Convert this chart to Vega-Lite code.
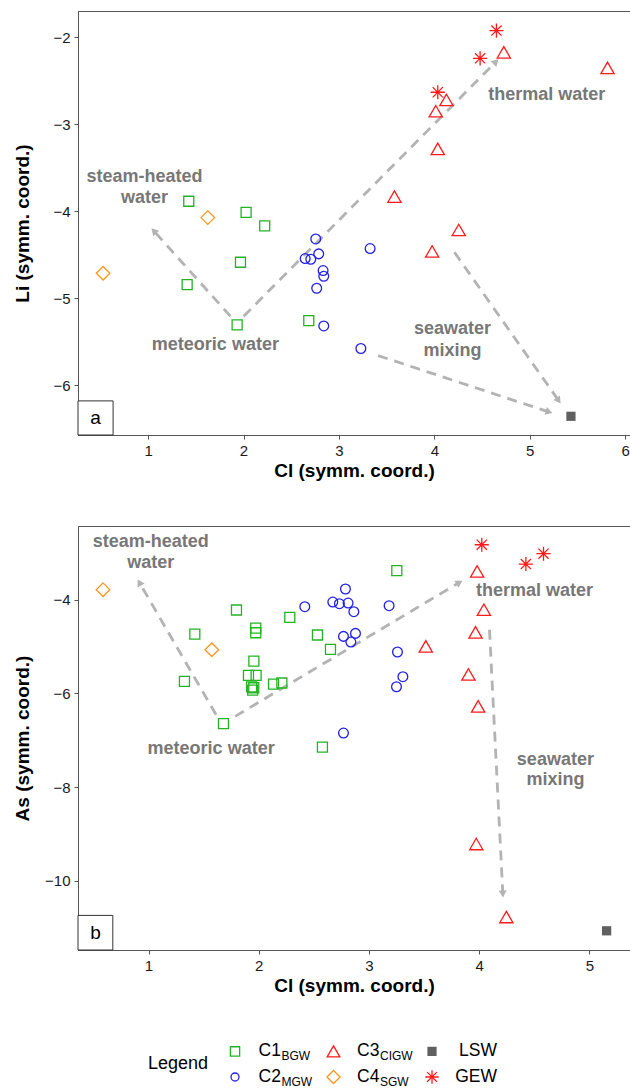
{
  "$schema": "https://vega.github.io/schema/vega-lite/v6.json",
  "background": "white",
  "padding": {"left": 12, "top": 10, "right": 0, "bottom": 0},
  "spacing": 44,
  "config": {
    "font": "Liberation Sans",
    "view": {"stroke": "#555555", "strokeWidth": 1},
    "axis": {"grid": false, "domainColor": "#555555", "tickColor": "#555555", "tickSize": 4, "labelFontSize": 15, "labelColor": "#1a1a1a", "labelFont": "Liberation Sans", "titleFont": "Liberation Sans", "titleFontSize": 19, "titleFontWeight": "bold", "titleColor": "#000000", "labelPadding": 4}
  },
  "resolve": {"scale": {"x": "independent", "y": "independent", "color": "independent", "shape": "independent", "size": "independent"}},
  "datasets": {
    "ptsA": [
      {"cl": 1.426, "v": -3.887, "g": "C1"}, {"cl": 2.027, "v": -4.014, "g": "C1"}, {"cl": 2.222, "v": -4.170, "g": "C1"},
      {"cl": 1.968, "v": -4.588, "g": "C1"}, {"cl": 1.409, "v": -4.845, "g": "C1"}, {"cl": 1.933, "v": -5.308, "g": "C1"},
      {"cl": 2.684, "v": -5.259, "g": "C1"},
      {"cl": 2.757, "v": -4.320, "g": "C2"}, {"cl": 2.788, "v": -4.492, "g": "C2"}, {"cl": 2.646, "v": -4.546, "g": "C2"},
      {"cl": 2.705, "v": -4.554, "g": "C2"}, {"cl": 2.834, "v": -4.684, "g": "C2"}, {"cl": 2.841, "v": -4.749, "g": "C2"},
      {"cl": 2.767, "v": -4.887, "g": "C2"}, {"cl": 2.841, "v": -5.320, "g": "C2"}, {"cl": 3.327, "v": -4.431, "g": "C2"},
      {"cl": 3.230, "v": -5.580, "g": "C2"},
      {"cl": 4.728, "v": -2.175, "g": "C3"}, {"cl": 5.815, "v": -2.354, "g": "C3"}, {"cl": 4.127, "v": -2.722, "g": "C3"},
      {"cl": 4.015, "v": -2.852, "g": "C3"}, {"cl": 4.036, "v": -3.285, "g": "C3"}, {"cl": 3.582, "v": -3.833, "g": "C3"},
      {"cl": 4.256, "v": -4.217, "g": "C3"}, {"cl": 3.977, "v": -4.464, "g": "C3"},
      {"cl": 1.625, "v": -4.075, "g": "C4"}, {"cl": 0.528, "v": -4.715, "g": "C4"},
      {"cl": 4.651, "v": -1.925, "g": "GEW"}, {"cl": 4.480, "v": -2.244, "g": "GEW"}, {"cl": 4.036, "v": -2.634, "g": "GEW"},
      {"cl": 5.432, "v": -6.359, "g": "LSW"}
    ],
    "ptsB": [
      {"cl": 1.798, "v": -4.220, "g": "C1"}, {"cl": 1.420, "v": -4.733, "g": "C1"}, {"cl": 1.973, "v": -4.605, "g": "C1"},
      {"cl": 1.973, "v": -4.705, "g": "C1"}, {"cl": 2.282, "v": -4.377, "g": "C1"}, {"cl": 2.533, "v": -4.754, "g": "C1"},
      {"cl": 2.651, "v": -5.061, "g": "C1"}, {"cl": 1.956, "v": -5.310, "g": "C1"}, {"cl": 1.326, "v": -5.744, "g": "C1"},
      {"cl": 1.907, "v": -5.616, "g": "C1"}, {"cl": 1.976, "v": -5.616, "g": "C1"}, {"cl": 1.935, "v": -5.860, "g": "C1"},
      {"cl": 1.955, "v": -5.880, "g": "C1"}, {"cl": 1.945, "v": -5.930, "g": "C1"}, {"cl": 2.134, "v": -5.801, "g": "C1"},
      {"cl": 2.210, "v": -5.779, "g": "C1"}, {"cl": 1.680, "v": -6.648, "g": "C1"}, {"cl": 2.578, "v": -7.146, "g": "C1"},
      {"cl": 3.253, "v": -3.381, "g": "C1"},
      {"cl": 2.418, "v": -4.149, "g": "C2"}, {"cl": 2.787, "v": -3.771, "g": "C2"}, {"cl": 2.672, "v": -4.050, "g": "C2"},
      {"cl": 2.732, "v": -4.085, "g": "C2"}, {"cl": 2.811, "v": -4.071, "g": "C2"}, {"cl": 2.863, "v": -4.256, "g": "C2"},
      {"cl": 2.769, "v": -4.783, "g": "C2"}, {"cl": 2.878, "v": -4.719, "g": "C2"}, {"cl": 2.836, "v": -4.904, "g": "C2"},
      {"cl": 2.769, "v": -6.847, "g": "C2"}, {"cl": 3.183, "v": -4.128, "g": "C2"}, {"cl": 3.259, "v": -5.117, "g": "C2"},
      {"cl": 3.308, "v": -5.644, "g": "C2"}, {"cl": 3.250, "v": -5.858, "g": "C2"},
      {"cl": 3.982, "v": -3.396, "g": "C3"}, {"cl": 4.043, "v": -4.214, "g": "C3"}, {"cl": 3.967, "v": -4.698, "g": "C3"},
      {"cl": 3.516, "v": -4.997, "g": "C3"}, {"cl": 3.903, "v": -5.595, "g": "C3"}, {"cl": 3.991, "v": -6.278, "g": "C3"},
      {"cl": 3.974, "v": -9.217, "g": "C3"}, {"cl": 4.247, "v": -10.776, "g": "C3"},
      {"cl": 1.574, "v": -5.068, "g": "C4"}, {"cl": 0.587, "v": -3.786, "g": "C4"},
      {"cl": 4.024, "v": -2.826, "g": "GEW"}, {"cl": 4.424, "v": -3.238, "g": "GEW"}, {"cl": 4.584, "v": -3.018, "g": "GEW"},
      {"cl": 5.157, "v": -11.070, "g": "LSW"}
    ],
    "arrA": [
      {"id": "A1", "cl": 1.863, "v": -5.209, "cl2": 1.060, "v2": -4.228},
      {"id": "A2", "cl": 2.002, "v": -5.209, "cl2": 4.646, "v2": -2.283},
      {"id": "A3", "cl": 4.211, "v": -4.474, "cl2": 5.303, "v2": -6.178},
      {"id": "A4", "cl": 3.411, "v": -5.661, "cl2": 5.202, "v2": -6.309}
    ],
    "headA": [
      {"id": "A1", "cl": 1.060, "v": -4.228},
      {"id": "A2", "cl": 4.646, "v": -2.283},
      {"id": "A3", "cl": 5.303, "v": -6.178},
      {"id": "A4", "cl": 5.202, "v": -6.309}
    ],
    "arrB": [
      {"id": "B1", "cl": 1.613, "v": -6.456, "cl2": 0.917, "v2": -3.633},
      {"id": "B2", "cl": 1.786, "v": -6.491, "cl2": 3.821, "v2": -3.631},
      {"id": "B3", "cl": 4.094, "v": -4.641, "cl2": 4.215, "v2": -10.284}
    ],
    "headB": [
      {"id": "B1", "cl": 0.917, "v": -3.633},
      {"id": "B2", "cl": 3.821, "v": -3.631},
      {"id": "B3", "cl": 4.215, "v": -10.284}
    ],
    "txtA": [
      {"t": "steam-heated", "cl": 0.962, "v": -3.611},
      {"t": "water", "cl": 0.962, "v": -3.853},
      {"t": "thermal water", "cl": 5.179, "v": -2.664},
      {"t": "meteoric water", "cl": 1.705, "v": -5.538},
      {"t": "seawater", "cl": 4.19, "v": -5.354},
      {"t": "mixing", "cl": 4.19, "v": -5.603}
    ],
    "txtB": [
      {"t": "steam-heated", "cl": 1.020, "v": -2.768},
      {"t": "water", "cl": 1.020, "v": -3.216},
      {"t": "thermal water", "cl": 4.502, "v": -3.823},
      {"t": "meteoric water", "cl": 1.568, "v": -7.189},
      {"t": "seawater", "cl": 4.692, "v": -7.417},
      {"t": "mixing", "cl": 4.692, "v": -7.859}
    ],
    "boxA": [{"cl": 0.265, "v": -6.574, "cl2": 0.633, "v2": -6.182}],
    "boxB": [{"cl": 0.36, "v": -11.48, "cl2": 0.676, "v2": -10.741}],
    "tagA": [{"t": "a", "cl": 0.449, "v": -6.378}],
    "tagB": [{"t": "b", "cl": 0.518, "v": -11.11}],
    "leg": [
      {"key": "C1", "main": "C1", "sub": "BGW", "col": 1, "row": 1},
      {"key": "C2", "main": "C2", "sub": "MGW", "col": 1, "row": 2},
      {"key": "C3", "main": "C3", "sub": "CIGW", "col": 2, "row": 1},
      {"key": "C4", "main": "C4", "sub": "SGW", "col": 2, "row": 2},
      {"key": "LSW", "main": "LSW", "sub": "", "col": 3, "row": 1},
      {"key": "GEW", "main": "GEW", "sub": "", "col": 3, "row": 2}
    ],
    "legT": [{"t": "Legend", "col": 0.726, "row": 1.5}]
  },
  "vconcat": [
    {
      "width": 552, "height": 424,
      "encoding": {
        "x": {"field": "cl", "type": "quantitative", "scale": {"domain": [0.265, 6.051], "nice": false, "zero": false},
              "axis": {"title": "Cl (symm. coord.)", "values": [1, 2, 3, 4, 5, 6], "titleBaseline": "middle", "titleY": 35}},
        "y": {"field": "v", "type": "quantitative", "scale": {"domain": [-6.574, -1.70], "nice": false, "zero": false},
              "axis": {"title": "Li (symm. coord.)", "values": [-2, -3, -4, -5, -6], "titleX": -56, "titleY": 212, "titleBaseline": "middle"}}
      },
      "layer": [
        {"data": {"name": "arrA"}, "mark": {"type": "rule", "color": "#b3b3b3", "strokeWidth": 2.8, "strokeDash": [10, 7]},
         "encoding": {"x2": {"field": "cl2"}, "y2": {"field": "v2"}}},
        {"data": {"name": "headA"}, "transform": [{"filter": "datum.id == 'A1'"}], "mark": {"type": "point", "shape": "triangle-up", "filled": true, "opacity": 1, "color": "#b3b3b3", "size": 64, "angle": -41.9}, "encoding": {}},
        {"data": {"name": "headA"}, "transform": [{"filter": "datum.id == 'A2'"}], "mark": {"type": "point", "shape": "triangle-up", "filled": true, "opacity": 1, "color": "#b3b3b3", "size": 64, "angle": 44.7}, "encoding": {}},
        {"data": {"name": "headA"}, "transform": [{"filter": "datum.id == 'A3'"}], "mark": {"type": "point", "shape": "triangle-up", "filled": true, "opacity": 1, "color": "#b3b3b3", "size": 64, "angle": 144.9}, "encoding": {}},
        {"data": {"name": "headA"}, "transform": [{"filter": "datum.id == 'A4'"}], "mark": {"type": "point", "shape": "triangle-up", "filled": true, "opacity": 1, "color": "#b3b3b3", "size": 64, "angle": 108.3}, "encoding": {}},
        {"data": {"name": "ptsA"}, "transform": [{"filter": "datum.g != 'LSW'"}],
         "mark": {"type": "point", "filled": false, "opacity": 1, "strokeWidth": 1.3},
         "encoding": {
           "shape": {"field": "g", "type": "nominal", "legend": null, "scale": {"domain": ["C1", "C2", "C3", "C4", "GEW"], "range": ["square", "circle", "triangle-up", "diamond", "M0,-1L0,1M-1,0L1,0M-0.72,-0.72L0.72,0.72M-0.72,0.72L0.72,-0.72"]}},
           "color": {"field": "g", "type": "nominal", "legend": null, "scale": {"domain": ["C1", "C2", "C3", "C4", "GEW"], "range": ["#22b422", "#2020e6", "#ff1a1a", "#ff9520", "#ff1a1a"]}},
           "size": {"field": "g", "type": "nominal", "legend": null, "scale": {"type": "ordinal", "domain": ["C1", "C2", "C3", "C4", "GEW"], "range": [100, 95, 175, 185, 200]}}
         }},
        {"data": {"name": "ptsA"}, "transform": [{"filter": "datum.g == 'LSW'"}],
         "mark": {"type": "square", "filled": true, "opacity": 1, "color": "#606060", "size": 85}, "encoding": {}},
        {"data": {"name": "txtA"}, "mark": {"type": "text", "fontSize": 18, "fontWeight": "bold", "color": "#777777", "align": "center", "baseline": "middle"},
         "encoding": {"text": {"field": "t"}}},
        {"data": {"name": "boxA"}, "mark": {"type": "rect", "fill": "white", "stroke": "#333333", "strokeWidth": 1},
         "encoding": {"x2": {"field": "cl2"}, "y2": {"field": "v2"}}},
        {"data": {"name": "tagA"}, "mark": {"type": "text", "fontSize": 19, "color": "#000000", "align": "center", "baseline": "middle"},
         "encoding": {"text": {"field": "t"}}}
      ]
    },
    {
      "width": 552, "height": 424,
      "encoding": {
        "x": {"field": "cl", "type": "quantitative", "scale": {"domain": [0.36, 5.369], "nice": false, "zero": false},
              "axis": {"title": "Cl (symm. coord.)", "values": [1, 2, 3, 4, 5], "titleBaseline": "middle", "titleY": 35}},
        "y": {"field": "v", "type": "quantitative", "scale": {"domain": [-11.48, -2.426], "nice": false, "zero": false},
              "axis": {"title": "As (symm. coord.)", "values": [-4, -6, -8, -10], "titleX": -56, "titleY": 212, "titleBaseline": "middle"}}
      },
      "layer": [
        {"data": {"name": "arrB"}, "mark": {"type": "rule", "color": "#b3b3b3", "strokeWidth": 2.8, "strokeDash": [10, 7]},
         "encoding": {"x2": {"field": "cl2"}, "y2": {"field": "v2"}}},
        {"data": {"name": "headB"}, "transform": [{"filter": "datum.id == 'B1'"}], "mark": {"type": "point", "shape": "triangle-up", "filled": true, "opacity": 1, "color": "#b3b3b3", "size": 64, "angle": -30.1}, "encoding": {}},
        {"data": {"name": "headB"}, "transform": [{"filter": "datum.id == 'B2'"}], "mark": {"type": "point", "shape": "triangle-up", "filled": true, "opacity": 1, "color": "#b3b3b3", "size": 64, "angle": 59.2}, "encoding": {}},
        {"data": {"name": "headB"}, "transform": [{"filter": "datum.id == 'B3'"}], "mark": {"type": "point", "shape": "triangle-up", "filled": true, "opacity": 1, "color": "#b3b3b3", "size": 64, "angle": 177.1}, "encoding": {}},
        {"data": {"name": "ptsB"}, "transform": [{"filter": "datum.g != 'LSW'"}],
         "mark": {"type": "point", "filled": false, "opacity": 1, "strokeWidth": 1.3},
         "encoding": {
           "shape": {"field": "g", "type": "nominal", "legend": null, "scale": {"domain": ["C1", "C2", "C3", "C4", "GEW"], "range": ["square", "circle", "triangle-up", "diamond", "M0,-1L0,1M-1,0L1,0M-0.72,-0.72L0.72,0.72M-0.72,0.72L0.72,-0.72"]}},
           "color": {"field": "g", "type": "nominal", "legend": null, "scale": {"domain": ["C1", "C2", "C3", "C4", "GEW"], "range": ["#22b422", "#2020e6", "#ff1a1a", "#ff9520", "#ff1a1a"]}},
           "size": {"field": "g", "type": "nominal", "legend": null, "scale": {"type": "ordinal", "domain": ["C1", "C2", "C3", "C4", "GEW"], "range": [100, 95, 175, 185, 200]}}
         }},
        {"data": {"name": "ptsB"}, "transform": [{"filter": "datum.g == 'LSW'"}],
         "mark": {"type": "square", "filled": true, "opacity": 1, "color": "#606060", "size": 85}, "encoding": {}},
        {"data": {"name": "txtB"}, "mark": {"type": "text", "fontSize": 18, "fontWeight": "bold", "color": "#777777", "align": "center", "baseline": "middle"},
         "encoding": {"text": {"field": "t"}}},
        {"data": {"name": "boxB"}, "mark": {"type": "rect", "fill": "white", "stroke": "#333333", "strokeWidth": 1},
         "encoding": {"x2": {"field": "cl2"}, "y2": {"field": "v2"}}},
        {"data": {"name": "tagB"}, "mark": {"type": "text", "fontSize": 19, "color": "#000000", "align": "center", "baseline": "middle"},
         "encoding": {"text": {"field": "t"}}}
      ]
    },
    {
      "width": 552, "height": 48,
      "view": {"stroke": null},
      "encoding": {
        "x": {"field": "col", "type": "quantitative", "scale": {"domain": [-0.594, 5.010], "nice": false, "zero": false}, "axis": null},
        "y": {"field": "row", "type": "quantitative", "scale": {"domain": [0.555, 2.43], "reverse": true, "nice": false, "zero": false}, "axis": null}
      },
      "layer": [
        {"data": {"name": "leg"}, "transform": [{"filter": "datum.key != 'LSW'"}],
         "mark": {"type": "point", "filled": false, "opacity": 1, "strokeWidth": 1.3},
         "encoding": {
           "shape": {"field": "key", "type": "nominal", "legend": null, "scale": {"domain": ["C1", "C2", "C3", "C4", "GEW"], "range": ["square", "circle", "triangle-up", "diamond", "M0,-1L0,1M-1,0L1,0M-0.72,-0.72L0.72,0.72M-0.72,0.72L0.72,-0.72"]}},
           "color": {"field": "key", "type": "nominal", "legend": null, "scale": {"domain": ["C1", "C2", "C3", "C4", "GEW"], "range": ["#22b422", "#2020e6", "#ff1a1a", "#ff9520", "#ff1a1a"]}},
           "size": {"field": "key", "type": "nominal", "legend": null, "scale": {"type": "ordinal", "domain": ["C1", "C2", "C3", "C4", "GEW"], "range": [86, 64, 160, 170, 180]}}
         }},
        {"data": {"name": "leg"}, "transform": [{"filter": "datum.key == 'LSW'"}],
         "mark": {"type": "square", "filled": true, "opacity": 1, "color": "#606060", "size": 85}, "encoding": {}},
        {"data": {"name": "leg"}, "transform": [{"filter": "datum.sub != ''"}],
         "mark": {"type": "text", "fontSize": 17.5, "color": "#000000", "align": "left", "baseline": "middle", "dx": 23.5},
         "encoding": {"text": {"field": "main"}}},
        {"data": {"name": "leg"}, "transform": [{"filter": "datum.sub != ''"}],
         "mark": {"type": "text", "fontSize": 12, "color": "#000000", "align": "left", "baseline": "middle", "dx": 46.5, "dy": 5},
         "encoding": {"text": {"field": "sub"}}},
        {"data": {"name": "leg"}, "transform": [{"filter": "datum.sub == ''"}],
         "mark": {"type": "text", "fontSize": 17.5, "color": "#000000", "align": "right", "baseline": "middle", "dx": 65},
         "encoding": {"text": {"field": "main"}}},
        {"data": {"name": "legT"}, "mark": {"type": "text", "fontSize": 18, "color": "#000000", "align": "right", "baseline": "middle"},
         "encoding": {"text": {"field": "t"}}}
      ]
    }
  ]
}
